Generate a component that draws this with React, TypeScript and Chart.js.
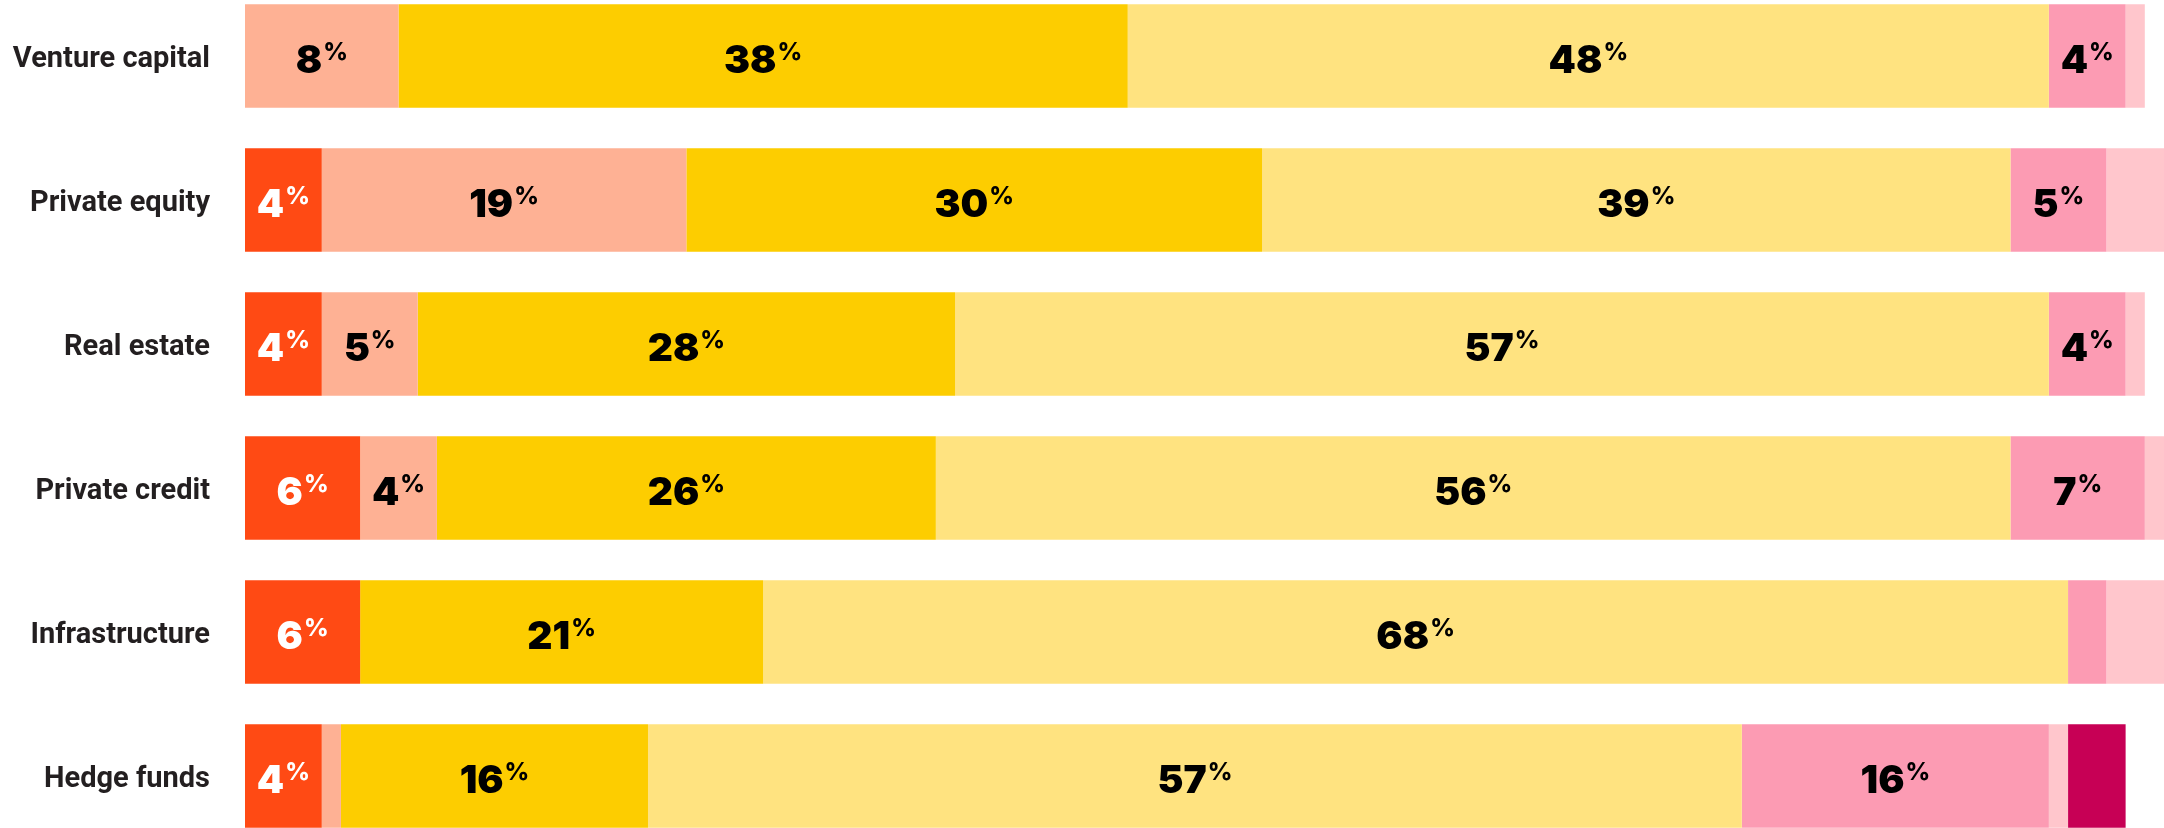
import React, { useEffect, useRef } from "react";
import { Chart, registerables } from "chart.js";

Chart.register(...registerables);

const categories = [
  "Venture capital",
  "Private equity",
  "Real estate",
  "Private credit",
  "Infrastructure",
  "Hedge funds",
];

const seriesRed = [0, 4, 4, 6, 6, 4];
const seriesSalmon = [8, 19, 5, 4, 0, 1];
const seriesGold = [38, 30, 28, 26, 21, 16];
const seriesLightYellow = [48, 39, 57, 56, 68, 57];
const seriesPink = [4, 5, 4, 7, 2, 16];
const seriesLightPink = [1, 3, 1, 1, 3, 1];
const seriesCrimson = [0, 0, 0, 0, 0, 3];

const seriesNames = ["s1", "s2", "s3", "s4", "s5", "s6", "s7"];
const seriesData = [
  seriesRed,
  seriesSalmon,
  seriesGold,
  seriesLightYellow,
  seriesPink,
  seriesLightPink,
  seriesCrimson,
];
const seriesColors = [
  "#FF4A14",
  "#FEB194",
  "#FDCD00",
  "#FFE380",
  "#FC9BB3",
  "#FFC6CC",
  "#C70055",
];
const labelColors = ["#FFFFFF", "#000000", "#000000", "#000000", "#000000", "#000000", "#FFFFFF"];
const labelThreshold = 4;

const NUM_FONT = "900 39px Inter, 'Noto Sans', sans-serif";
const PCT_FONT = "800 24px Inter, 'Noto Sans', sans-serif";

const segmentLabels = {
  id: "segmentLabels",
  afterDatasetsDraw(chart: any) {
    const ctx = chart.ctx;
    ctx.save();
    chart.data.datasets.forEach((ds: any, di: number) => {
      const meta = chart.getDatasetMeta(di);
      meta.data.forEach((el: any, i: number) => {
        const v = ds.data[i];
        if (v == null || v < labelThreshold) return;
        const cx = (el.x + el.base) / 2;
        const cy = el.y;
        const num = String(v);
        ctx.font = NUM_FONT;
        const w1 = ctx.measureText(num).width;
        ctx.font = PCT_FONT;
        const w2 = ctx.measureText("%").width;
        const gap = 1;
        const start = cx - (w1 + gap + w2) / 2;
        ctx.fillStyle = labelColors[di];
        ctx.textAlign = "left";
        ctx.textBaseline = "alphabetic";
        ctx.font = NUM_FONT;
        ctx.fillText(num, start, cy + 17);
        ctx.font = PCT_FONT;
        ctx.fillText("%", start + w1 + gap, cy + 4);
      });
    });
    ctx.restore();
  },
};

export default function App() {
  const canvasRef = useRef<HTMLCanvasElement | null>(null);

  useEffect(() => {
    document.body.style.margin = "0";
    document.body.style.overflow = "hidden";
    const canvas = canvasRef.current;
    if (!canvas) return;
    const chart = new Chart(canvas, {
      type: "bar",
      data: {
        labels: categories,
        datasets: seriesData.map((d, i) => ({
          label: seriesNames[i],
          data: d,
          backgroundColor: seriesColors[i],
          borderWidth: 0,
          barPercentage: 0.72,
          categoryPercentage: 1,
        })),
      },
      options: {
        indexAxis: "y",
        animation: false,
        responsive: true,
        maintainAspectRatio: false,
        layout: { padding: 0 },
        plugins: {
          legend: { display: false },
          tooltip: { enabled: false },
        },
        scales: {
          x: {
            stacked: true,
            display: false,
            min: 0,
            max: 100,
          },
          y: {
            stacked: true,
            grid: { display: false, drawTicks: false },
            border: { display: false },
            ticks: {
              padding: 35,
              labelOffset: 4,
              color: "#231F20",
              font: { family: "Roboto, 'Noto Sans', sans-serif", weight: "bold", size: 29 },
            },
            afterFit: (scale: any) => {
              scale.width = 245;
              scale.paddingTop = 0;
              scale.paddingBottom = 0;
            },
          },
        },
      },
      plugins: [segmentLabels],
    });
    return () => chart.destroy();
  }, []);

  return (
    <div style={{ position: "relative", width: 2164, height: 828, overflow: "hidden", background: "#fff" }}>
      <div style={{ position: "absolute", left: 0, top: -16, width: 2164, height: 864 }}>
        <canvas ref={canvasRef} />
      </div>
    </div>
  );
}
